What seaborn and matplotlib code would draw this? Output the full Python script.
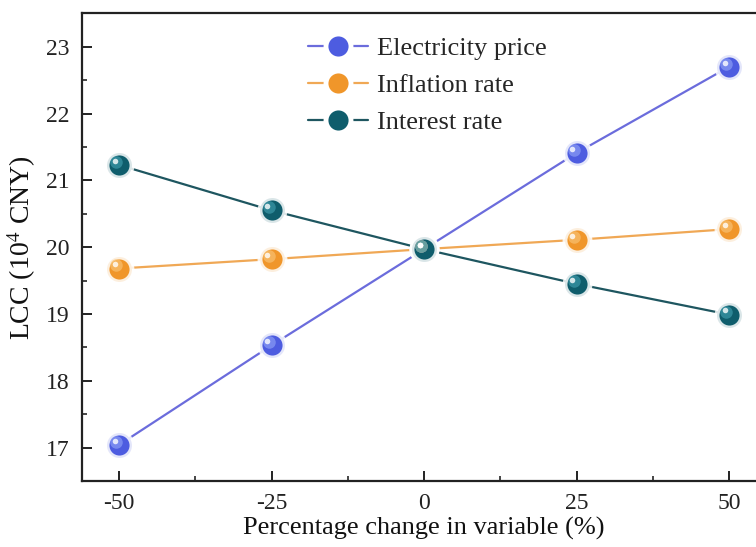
import numpy as np
import pandas as pd
import matplotlib
matplotlib.use("Agg")
import matplotlib.pyplot as plt
import matplotlib.transforms as mtransforms
from matplotlib.lines import Line2D
from matplotlib.ticker import MultipleLocator
import seaborn as sns

# Data
pct_change = [-50, -25, 0, 25, 50]
electricity_price = [17.04, 18.53, 19.97, 21.41, 22.70]
inflation_rate = [19.68, 19.82, 19.97, 20.11, 20.27]
interest_rate = [21.23, 20.55, 19.97, 19.45, 18.99]
series_names = ["Electricity price", "Inflation rate", "Interest rate"]
x_ticks = [-50, -25, 0, 25, 50]
y_ticks = [17, 18, 19, 20, 21, 22, 23]

df = pd.DataFrame({
    "x": pct_change * 3,
    "y": electricity_price + inflation_rate + interest_rate,
    "series": sum([[n] * len(pct_change) for n in series_names], []),
})

sns.set_theme(style="ticks")
plt.rcParams["font.family"] = ["Liberation Serif", "DejaVu Serif"]
plt.rcParams["mathtext.fontset"] = "stix"

line_colors = {"Electricity price": "#6b6cdc", "Inflation rate": "#f0a855", "Interest rate": "#1e5660"}
marker_colors = {"Electricity price": "#4d5ce0", "Inflation rate": "#f0962a", "Interest rate": "#0f5d6c"}
mid_colors = {"Electricity price": "#8a9cf5", "Inflation rate": "#f8c070", "Interest rate": "#3c98a8"}

fig = plt.figure(figsize=(7.56, 5.47), dpi=100)
ax = fig.add_axes([0.109, 0.1207, 0.904, 0.855])

sns.lineplot(data=df, x="x", y="y", hue="series", palette=line_colors,
             linewidth=1.6, ax=ax, legend=False, sort=False)

hl1 = mtransforms.offset_copy(ax.transData, fig=fig, x=-2.2, y=2.2, units="points")
hl2 = mtransforms.offset_copy(ax.transData, fig=fig, x=-3.0, y=3.0, units="points")
for name in series_names:
    sub = df[df["series"] == name]
    ax.plot(sub["x"], sub["y"], linestyle="none", marker="o", markersize=18,
            markerfacecolor=marker_colors[name], markeredgecolor=(1, 1, 1, 0.85),
            markeredgewidth=3.5, zorder=5)
    ax.plot(sub["x"], sub["y"], linestyle="none", marker="o", markersize=9,
            markerfacecolor=mid_colors[name], markeredgewidth=0, alpha=0.7,
            zorder=6, transform=hl1)
    ax.plot(sub["x"], sub["y"], linestyle="none", marker="o", markersize=4,
            markerfacecolor="white", markeredgewidth=0, alpha=0.8,
            zorder=7, transform=hl2)

handles = [Line2D([0], [0], color=line_colors[n], lw=1.6, marker="o", markersize=18,
                  markerfacecolor=marker_colors[n], markeredgecolor="white",
                  markeredgewidth=3.5) for n in series_names]
ax.legend(handles, series_names, loc="upper left", bbox_to_anchor=(0.315, 0.972),
          frameon=False, fontsize=19, handlelength=2.27, labelspacing=0.5,
          handletextpad=0.35, numpoints=1, borderaxespad=0)

ax.set_xlim(-56, 56)
ax.set_ylim(16.5, 23.5)
ax.set_xticks(x_ticks)
ax.set_xticklabels([str(t) for t in x_ticks])
ax.set_yticks(y_ticks)
ax.xaxis.set_minor_locator(MultipleLocator(12.5))
ax.yaxis.set_minor_locator(MultipleLocator(0.5))
ax.tick_params(axis="both", which="major", direction="in", length=7, width=1.4,
               labelsize=17, colors="#222222", top=False, right=False)
ax.tick_params(axis="both", which="minor", direction="in", length=3.6, width=1.2,
               top=False, right=False)
ax.tick_params(axis="x", which="major", pad=9)
ax.tick_params(axis="y", which="major", pad=9)
for s in ax.spines.values():
    s.set_linewidth(1.6)
    s.set_color("#222222")

ax.set_xlabel("Percentage change in variable (%)", fontsize=19, labelpad=2, color="#111111")
ax.set_ylabel(r"LCC (10$^{4}$ CNY)", fontsize=20, labelpad=6, color="#111111")

fig.savefig("out.png", dpi=100)
